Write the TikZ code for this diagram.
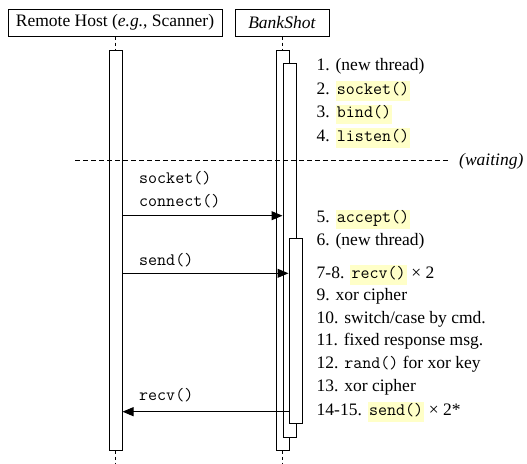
\documentclass[tikz,border=0pt]{standalone}
\usepackage{fontspec}
\setmainfont{Liberation Serif}
\usetikzlibrary{arrows.meta}
\definecolor{hly}{RGB}{255,255,200}
\newcommand\hlt[1]{{\setlength\fboxsep{0pt}\colorbox{hly}{\hspace{1.3pt}\rule[-6.5pt]{0pt}{19.5pt}{\fontsize{17.5}{20}\ttfamily #1}\hspace{1.3pt}}}}
\newcommand\ttm[1]{{\fontsize{17.5}{20}\ttfamily #1}}
\begin{document}
\begin{tikzpicture}[x=1pt,y=-1pt,
  font=\fontsize{17.5}{21}\selectfont,
  hdr/.style={draw,line width=1pt,inner sep=0pt,minimum height=27pt},
  bar/.style={draw,fill=white,line width=1pt,inner sep=0pt,minimum width=13pt},
  life/.style={line width=1pt,dash pattern=on 3pt off 3pt},
  arr/.style={line width=1pt,-{Triangle[length=11pt,width=9pt]}},
  txt/.style={anchor=base west,inner sep=0pt}]
\useasboundingbox (0,0) rectangle (527,463);
% headers
\node[hdr,minimum width=214pt] (hL) at (115,22.5) {Remote Host (\textit{e.g.}, Scanner)};
\node[hdr,minimum width=94pt] (hR) at (282,22.5) {\textit{BankShot}};
% lifelines
\coordinate (endL) at (115.5,463);
\coordinate (endR) at (282.5,463);
\draw[life] (hL.south) -- ++(0,14);
\draw[life] (hR.south) -- ++(0,14);
% bars
\node[bar,minimum height=400pt] (bL) at (115.5,250) {};
\node[bar,minimum height=400pt] (b1) at (282.5,250) {};
\node[bar,minimum height=374pt] (b2) at (289.5,250) {};
\node[bar,minimum height=185pt] (b3) at (295.5,330.5) {};
\draw[life] (bL.south) -- (endL);
\draw[life] (b1.south) -- (endR);
% waiting line
\coordinate (wA) at (75,160);
\coordinate (wB) at (449,160);
\draw[line width=1pt,dash pattern=on 4.5pt off 3.5pt] (wA) -- (wB);
\node[txt] (wt) at (459,165) {\textit{(waiting)}};
% arrows
\draw[arr] (bL.east |- 0,215.7) -- (b2.west |- 0,215.7);
\draw[arr] (bL.east |- 0,273.3) -- (b3.west |- 0,273.3);
\draw[arr] (b3.west |- 0,411.7) -- (bL.east |- 0,411.7);
% left labels
\node[txt] (l1) at (139,183.3) {\ttm{socket()}};
\node[txt] (l2) at (139,206.7) {\ttm{connect()}};
\node[txt] (l3) at (139,265) {\ttm{send()}};
\node[txt] (l4) at (139,400.7) {\ttm{recv()}};
% right list
\node[txt] (s1) at (316.5,70.5) {1. (new thread)};
\node[txt] (s2) at (316.5,94.3) {2. \hlt{socket()}};
\node[txt] (s3) at (316.5,117.7) {3. \hlt{bind()}};
\node[txt] (s4) at (316.5,141) {4. \hlt{listen()}};
\node[txt] (s5) at (316.5,222.7) {5. \hlt{accept()}};
\node[txt] (s6) at (316.5,245) {6. (new thread)};
\node[txt] (s7) at (316.5,278.3) {7-8. \hlt{recv()} × 2};
\node[txt] (s9) at (316.5,300.7) {9. xor cipher};
\node[txt] (s10) at (316.5,323.3) {10. switch/case by cmd.};
\node[txt] (s11) at (316.5,345.7) {11. fixed response msg.};
\node[txt] (s12) at (316.5,368.3) {12. \ttm{rand()} for xor key};
\node[txt] (s13) at (316.5,391) {13. xor cipher};
\node[txt] (s14) at (316.5,415.3) {14-15. \hlt{send()} × 2*};
\end{tikzpicture}
\end{document}
